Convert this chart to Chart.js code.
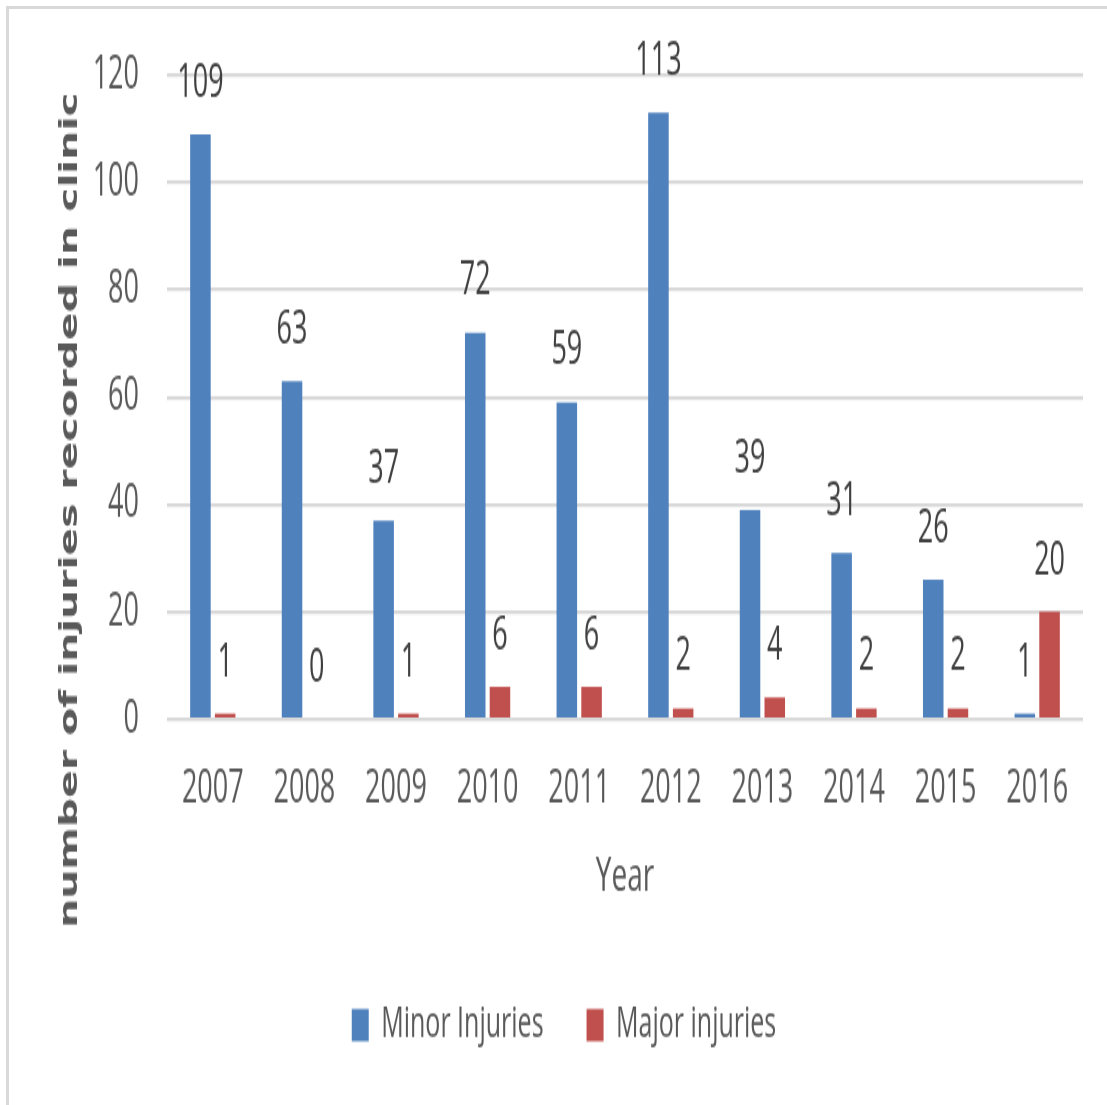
<!DOCTYPE html>
<html>
<head>
<meta charset="utf-8">
<script src="https://cdn.jsdelivr.net/npm/chart.js@4.4.1/dist/chart.umd.min.js"></script>
<style>
  html, body { margin: 0; padding: 0; background: #fff; }
  #wrap { position: relative; width: 1107px; height: 1105px; overflow: hidden; }
  #frame { position: absolute; left: 6px; top: 6px; right: -10px; bottom: -10px;
           border-top: 3px solid #D9D9D9; border-left: 3px solid #D9D9D9; }
  #chart { position: absolute; left: 0; top: 0; }
</style>
</head>
<body>
<div id="wrap">
  <div id="frame"></div>
  <canvas id="chart" width="1107" height="650" style="width:1107px;height:1105px"></canvas>
</div>
<script>
var years = ['2007', '2008', '2009', '2010', '2011', '2012', '2013', '2014', '2015', '2016'];
var minorInjuries = [109, 63, 37, 72, 59, 113, 39, 31, 26, 1];
var majorInjuries = [1, 0, 1, 6, 6, 2, 4, 2, 2, 20];
var seriesNames = ['Minor Injuries', 'Major injuries'];
var yTitle = 'number of injuries recorded in clinic';
var xTitle = 'Year';

var textGray = '#595959';
var labelFont = { family: 'Open Sans', size: 27 };

// values above the bars
var valueLabels = {
  id: 'valueLabels',
  afterDatasetsDraw: function(chart) {
    var ctx = chart.ctx;
    ctx.save();
    ctx.font = '27px "Open Sans"';
    ctx.fillStyle = '#404040';
    ctx.textAlign = 'center';
    ctx.textBaseline = 'middle';
    chart.data.datasets.forEach(function(ds, i) {
      chart.getDatasetMeta(i).data.forEach(function(bar, j) {
        ctx.fillText(ds.data[j], bar.x, bar.y - 30);
      });
    });
    ctx.restore();
  }
};

// y title sits lower than the axis middle, so draw it here
var sideTitle = {
  id: 'sideTitle',
  afterDraw: function(chart) {
    var ctx = chart.ctx;
    ctx.save();
    ctx.translate(77, 300);
    ctx.rotate(-Math.PI / 2);
    ctx.font = 'bold 24px "DejaVu Sans"';
    ctx.fillStyle = textGray;
    ctx.textAlign = 'center';
    ctx.textBaseline = 'alphabetic';
    ctx.fillText(yTitle, 0, 0);
    ctx.restore();
  }
};

new Chart(document.getElementById('chart'), {
  type: 'bar',
  data: {
    labels: years,
    datasets: [
      { label: seriesNames[0], data: minorInjuries, backgroundColor: '#4F81BD',
        categoryPercentage: 0.54, barPercentage: 0.83 },
      { label: seriesNames[1], data: majorInjuries, backgroundColor: '#C0504D',
        categoryPercentage: 0.54, barPercentage: 0.83 }
    ]
  },
  options: {
    responsive: false,
    animation: false,
    devicePixelRatio: 1,
    layout: { padding: { left: 45, right: 24, top: 37.5, bottom: 24.5 } },
    plugins: {
      legend: {
        position: 'bottom',
        labels: { boxWidth: 17, boxHeight: 19, padding: 43, color: textGray,
                  font: { family: 'Open Sans', size: 25 } }
      },
      tooltip: { enabled: false }
    },
    scales: {
      x: {
        grid: { display: false },
        border: { display: false },
        ticks: { color: textGray, font: labelFont, padding: 17 },
        title: { display: true, text: xTitle, color: textGray,
                 font: { family: 'Open Sans', size: 28 }, padding: { top: 20, bottom: 15 } },
        afterFit: function(scale) { scale.height = 124.5; }
      },
      y: {
        min: 0,
        max: 120,
        ticks: { stepSize: 20, color: textGray, font: labelFont, padding: 28 },
        grid: { color: '#D9D9D9', lineWidth: 2.2, drawTicks: false },
        border: { display: false },
        afterFit: function(scale) { scale.width = 122; }
      }
    }
  },
  plugins: [valueLabels, sideTitle]
});
</script>
</body>
</html>
